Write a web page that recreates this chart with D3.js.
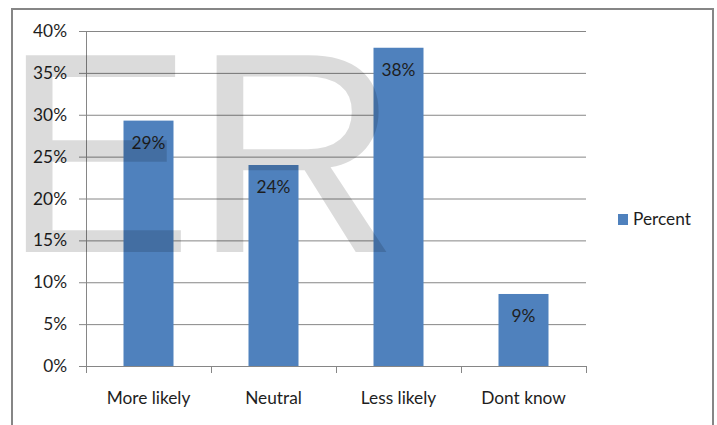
<!DOCTYPE html>
<html>
<head>
<meta charset="utf-8">
<script src="https://cdn.jsdelivr.net/npm/d3@7"></script>
<style>
  html, body { margin: 0; padding: 0; background: #fff; }
  svg { display: block; }
  text { font-family: Lato, "Open Sans", sans-serif; fill: #1e1e1e; }
</style>
</head>
<body>
<svg id="chart" width="717" height="425"></svg>
<script>
// Survey answers and their share of respondents
const categories = ["More likely", "Neutral", "Less likely", "Dont know"];
const percentValues = [0.293, 0.24, 0.38, 0.086];
const yTickValues = [0, 0.05, 0.10, 0.15, 0.20, 0.25, 0.30, 0.35, 0.40];
const seriesName = "Percent";
const watermarkText = "ER";

const barColor = "#4f81bd";
const gridColor = "#868686";
const fontSize = 17.3;

const svg = d3.select("#chart");

// Plot area
const plot = { left: 86, right: 586, top: 31, bottom: 366 };

const x = d3.scaleBand()
  .domain(categories)
  .range([plot.left, plot.right])
  .paddingInner(0.6)
  .paddingOuter(0.3);

const y = d3.scaleLinear()
  .domain([0, 0.4])
  .range([plot.bottom, plot.top]);

const pct = d3.format(".0%");

// Chart frame
svg.append("rect")
  .attr("x", 12).attr("y", 9)
  .attr("width", 701).attr("height", 440)
  .attr("fill", "#fff")
  .attr("stroke", gridColor)
  .attr("stroke-width", 2);

// Horizontal gridlines
svg.append("g")
  .attr("transform", `translate(${plot.left},0)`)
  .call(d3.axisLeft(y).tickValues(yTickValues).tickSize(-(plot.right - plot.left)).tickFormat(""))
  .call(g => g.select(".domain").remove())
  .call(g => g.selectAll("line").attr("stroke", gridColor).attr("stroke-width", 1));

// Y axis with tick labels
svg.append("g")
  .attr("transform", `translate(${plot.left},0)`)
  .call(d3.axisLeft(y).tickValues(yTickValues).tickSize(7).tickPadding(12).tickFormat(pct))
  .call(g => g.select(".domain").attr("stroke", gridColor))
  .call(g => g.selectAll("line").attr("stroke", gridColor))
  .call(g => g.selectAll("text")
    .attr("font-size", fontSize)
    .attr("font-family", null)
    .attr("fill", "#1e1e1e"));

// Bars
svg.append("g")
  .selectAll("rect")
  .data(categories)
  .join("rect")
  .attr("x", (d) => x(d))
  .attr("y", (d, i) => y(percentValues[i]))
  .attr("width", x.bandwidth())
  .attr("height", (d, i) => y(0) - y(percentValues[i]))
  .attr("fill", barColor);

// X axis baseline and category boundary ticks
const xAxis = svg.append("g");
xAxis.append("line")
  .attr("x1", plot.left).attr("x2", plot.right)
  .attr("y1", plot.bottom + 0.5).attr("y2", plot.bottom + 0.5)
  .attr("stroke", gridColor);
xAxis.selectAll("line.tick")
  .data(d3.range(categories.length + 1))
  .join("line")
  .attr("class", "tick")
  .attr("x1", (i) => plot.left + i * x.step() + 0.5)
  .attr("x2", (i) => plot.left + i * x.step() + 0.5)
  .attr("y1", plot.bottom)
  .attr("y2", plot.bottom + 7)
  .attr("stroke", gridColor);
xAxis.selectAll("text")
  .data(categories)
  .join("text")
  .attr("x", (d) => x(d) + x.bandwidth() / 2)
  .attr("y", 404)
  .attr("text-anchor", "middle")
  .attr("font-size", fontSize)
  .text((d) => d);

// Value labels inside the bars
svg.append("g")
  .selectAll("text")
  .data(categories)
  .join("text")
  .attr("x", (d) => x(d) + x.bandwidth() / 2)
  .attr("y", (d, i) => y(percentValues[i]) + 28)
  .attr("text-anchor", "middle")
  .attr("font-size", fontSize)
  .text((d, i) => pct(percentValues[i]));

// Legend
const legend = svg.append("g").attr("transform", "translate(618,214)");
legend.append("rect").attr("width", 10).attr("height", 11).attr("fill", barColor);
legend.append("text")
  .attr("x", 15).attr("y", 11)
  .attr("font-size", fontSize)
  .text(seriesName);

// Translucent watermark letters over the plot
svg.append("text")
  .attr("x", 2.4)
  .attr("y", 252)
  .attr("font-size", 286)
  .style("font-family", "'Liberation Sans', Arial, sans-serif")
  .style("fill", "#000")
  .style("fill-opacity", 0.14)
  .text(watermarkText);
</script>
</body>
</html>
